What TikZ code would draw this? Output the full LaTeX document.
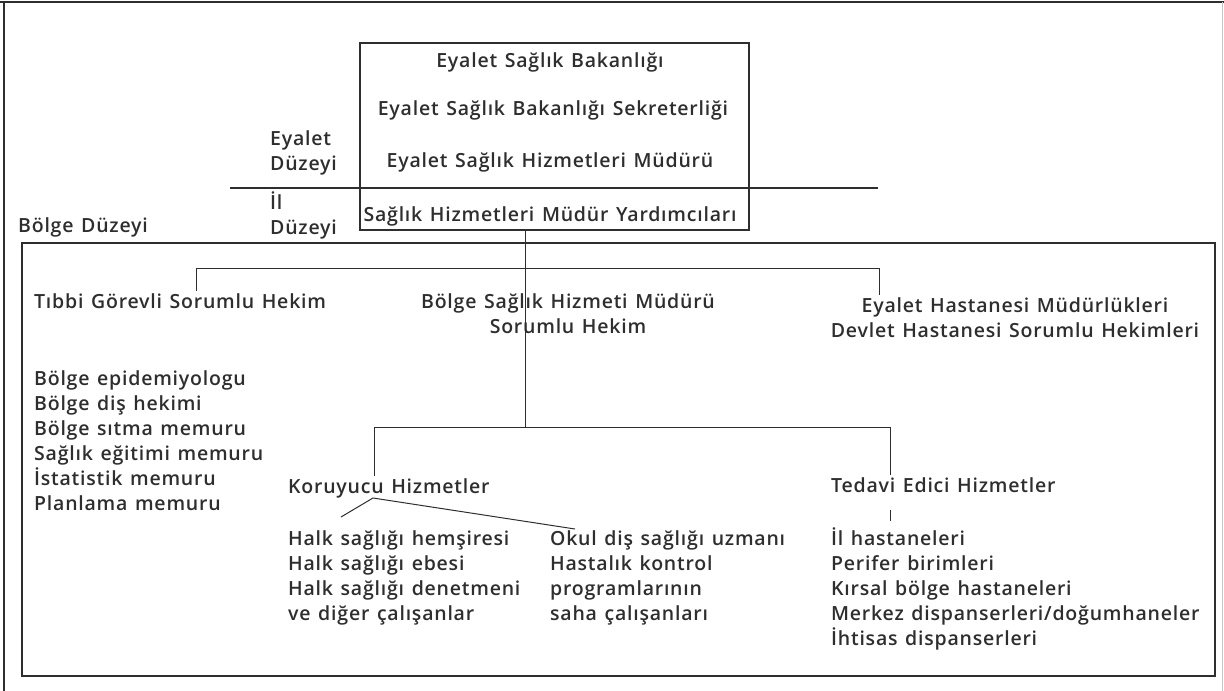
\documentclass[tikz,border=0pt]{standalone}
\usepackage{fontspec}
\IfFontExistsTF{Open Sans Semibold}
  {\setmainfont{Open Sans Semibold}[WordSpace=1.3, LetterSpace=4]}
  {\IfFontExistsTF{Open Sans SemiBold}
    {\setmainfont{Open Sans SemiBold}[WordSpace=1.3, LetterSpace=4]}
    {\setmainfont{Open Sans}[WordSpace=1.3, LetterSpace=6]}}
\definecolor{ink}{HTML}{2E2E2E}
\newcommand\fs{\fontsize{19.5}{25}\selectfont}
\begin{document}
\begin{tikzpicture}[x=1pt,y=-1pt]
\tikzset{
  frame/.style={draw=ink, line width=1.4pt},
  conn/.style={draw=ink, line width=1pt},
  lbl/.style={font=\fs, text=ink, inner sep=0pt},
  lst/.style={lbl, align=left, anchor=north west},
}
\useasboundingbox (0,0) rectangle (1224,691);
% outer frame (open at bottom)
\coordinate (oTL) at (4,2); \coordinate (oTR) at (1222,2);
\coordinate (oBL) at (4,691); \coordinate (oBR) at (1222,691);
\draw[ink, line width=2pt] (0,2) -- (1224,2);
\draw[frame] (oTL) -- (oBL);
\draw[gray!45, line width=1pt] (oTR) -- (oBR);

% provincial box
\node[frame, minimum width=389pt, minimum height=187pt, inner sep=0pt] (topbox) at (554.5,136.5) {};
\node[lbl, anchor=north] (esb) at (550,49.5) {\strut Eyalet Sağlık Bakanlığı};
\node[lbl, anchor=north] (esbs) at (553,97.5) {\strut Eyalet Sağlık Bakanlığı Sekreterliği};
\node[lbl, anchor=north] (eshm) at (550,149.5) {\strut Eyalet Sağlık Hizmetleri Müdürü};
\node[lbl, anchor=north] (shmy) at (550,203.5) {\strut Sağlık Hizmetleri Müdür Yardımcıları};
\coordinate (divL) at (230,188); \coordinate (divR) at (878,188);
\draw[frame] (divL) -- (divR);

% level labels
\node[lst] (eyd) at (270,127.5) {\strut Eyalet\\Düzeyi};
\node[lst] (ild) at (270,191.5) {\strut İl\\Düzeyi};
\node[lst] (bd) at (18,214.5) {\strut Bölge Düzeyi};

% district box
\node[frame, minimum width=1193pt, minimum height=433pt, inner sep=0pt] (region) at (618.5,459.5) {};

% second level
\node[lst] (tibbi) at (34,290.5) {\strut Tıbbi Görevli Sorumlu Hekim};
\node[lbl, align=center, anchor=north] (bshm) at (568,290.5) {\strut Bölge Sağlık Hizmeti Müdürü\\Sorumlu Hekim};
\node[lbl, align=center, anchor=north] (ehm) at (1015,294.5) {\strut Eyalet Hastanesi Müdürlükleri\\Devlet Hastanesi Sorumlu Hekimleri};

\node[lst] (blist) at (34,367.5) {\strut Bölge epidemiyologu\\Bölge diş hekimi\\Bölge sıtma memuru\\Sağlık eğitimi memuru\\İstatistik memuru\\Planlama memuru};

% third level
\node[lst] (kor) at (288,475.5) {\strut Koruyucu Hizmetler};
\node[lst] (ted) at (831,474.5) {\strut Tedavi Edici Hizmetler};
\node[lst] (halk) at (288,527.5) {\strut Halk sağlığı hemşiresi\\Halk sağlığı ebesi\\Halk sağlığı denetmeni\\ve diğer çalışanlar};
\node[lst] (okul) at (550,527.5) {\strut Okul diş sağlığı uzmanı\\Hastalık kontrol\\programlarının\\saha çalışanları};
\node[lst] (hast) at (831,527.5) {\strut İl hastaneleri\\Perifer birimleri\\Kırsal bölge hastaneleri\\Merkez dispanserleri/doğumhaneler\\İhtisas dispanserleri};

% connectors
\coordinate (tx) at (525,0);
\coordinate (b1L) at (196,268); \coordinate (b1R) at (879,268);
\coordinate (b2L) at (374,427); \coordinate (b2R) at (890,427);
\draw[conn] (topbox.south -| tx) -- (b2L -| tx);
\draw[conn] (tibbi.north -| b1L) -- (b1L) -- (b1R) -- (ehm.north -| b1R);
\draw[conn] (kor.north -| b2L) -- (b2L) -- (b2R) -- (ted.north -| b2R);
\draw[conn, shorten <=10pt, shorten >=7pt] (ted.south -| b2R) -- (hast.north -| b2R);
\coordinate (kapex) at (373,498);
\coordinate (kL) at (341,517);
\coordinate (kR) at (575,529);
\draw[conn] (kL) -- (kapex) -- (kR);
\end{tikzpicture}
\end{document}
